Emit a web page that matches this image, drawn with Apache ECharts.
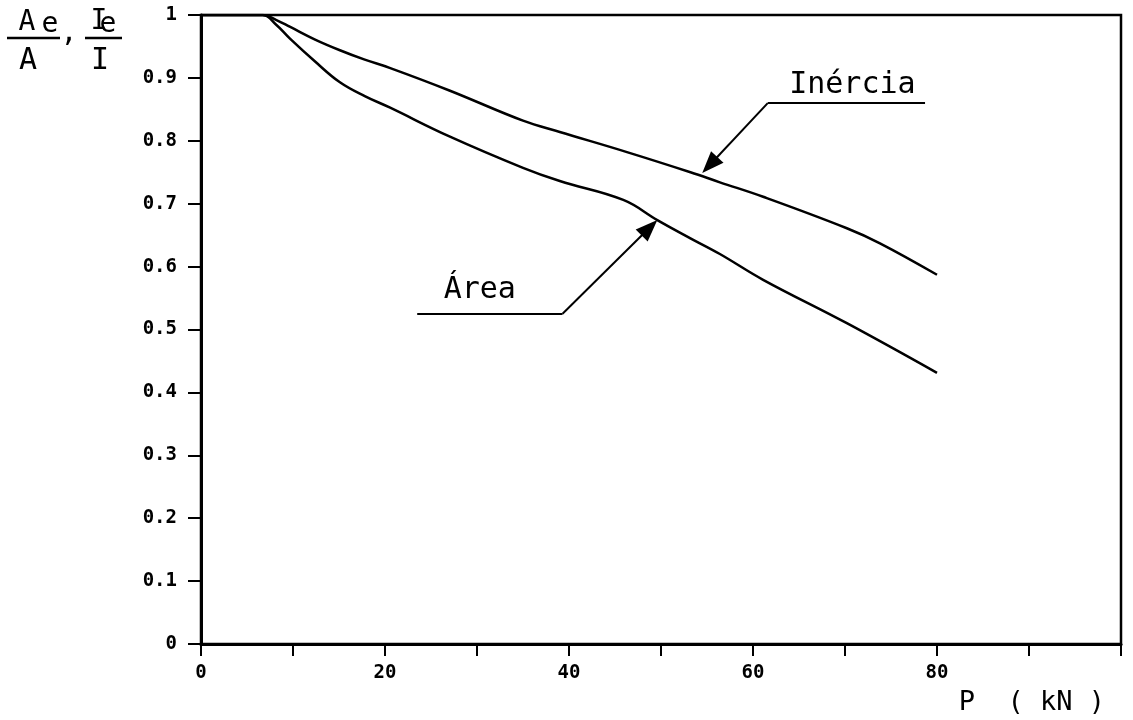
<!DOCTYPE html>
<html>
<head>
<meta charset="utf-8">
<script src="https://cdn.jsdelivr.net/npm/echarts@6/dist/echarts.min.js"></script>
<style>
html,body{margin:0;padding:0;background:#fff;}
#chart{width:1133px;height:720px;}
</style>
</head>
<body>
<div id="chart"></div>
<script>
// ---- data ----
const inerciaX = [0, 6.7, 8.2, 9.7, 12.4, 15.1, 17.8, 20.5, 27, 35, 39, 46.3, 53.2, 56.4, 61.1, 70.2, 73.8, 80];
const inerciaY = [1, 1, 0.992, 0.981, 0.961, 0.944, 0.929, 0.916, 0.880, 0.832, 0.814, 0.782, 0.750, 0.734, 0.711, 0.661, 0.637, 0.587];
const areaX = [0, 6.7, 8.2, 9.7, 12.4, 15.1, 17.8, 20.5, 27, 35, 39, 45.9, 49.6, 53.2, 56.4, 61.1, 70.2, 80];
const areaY = [1, 1, 0.984, 0.962, 0.926, 0.893, 0.871, 0.853, 0.807, 0.757, 0.736, 0.706, 0.674, 0.645, 0.620, 0.579, 0.510, 0.431];
const xLabels = [0, 20, 40, 60, 80];
const seriesNames = ['Inércia', 'Área'];
// annotation anchors (data coordinates); "head" is the centre of the arrow head
const inerciaNote = { text: [70.8, 0.889], lineStart: [78.7, 0.860], lineEnd: [61.6, 0.860], head: [55.3, 0.7615] };
const areaNote = { text: [30.3, 0.563], lineStart: [23.5, 0.525], lineEnd: [39.3, 0.525], head: [48.75, 0.6617] };

const pairs = (xs, ys) => xs.map((x, i) => [x, ys[i]]);
const MONO = 'DejaVu Sans Mono';

function annotation(note, name) {
  return {
    markLine: {
      silent: true,
      animation: false,
      label: { show: false },
      lineStyle: { color: '#000', type: 'solid', width: 2 },
      emphasis: { disabled: true },
      data: [
        [{ coord: note.lineStart, symbol: 'none' }, { coord: note.lineEnd, symbol: 'none' }],
        [{ coord: note.lineEnd, symbol: 'none' }, { coord: note.head, symbol: 'triangle', symbolSize: [17, 22] }]
      ]
    },
    markPoint: {
      silent: true,
      animation: false,
      data: [{
        coord: note.text, symbol: 'circle', symbolSize: 0,
        itemStyle: { color: 'rgba(0,0,0,0)' },
        label: { show: true, position: 'inside', formatter: name, color: '#000', fontFamily: MONO, fontSize: 30 }
      }]
    }
  };
}

function txt(x, y, s, size) {
  return { type: 'text', style: { x: x, y: y, text: s, fontSize: size, fontFamily: MONO, fill: '#000', align: 'center', verticalAlign: 'middle', textAlign: 'center', textVerticalAlign: 'middle' } };
}

const chart = echarts.init(document.getElementById('chart'), null, { renderer: 'canvas' });
chart.setOption({
  animation: false,
  backgroundColor: '#fff',
  grid: { left: 201, right: 12, top: 15, bottom: 76, show: true, borderColor: '#000', borderWidth: 2.5, backgroundColor: 'transparent' },
  xAxis: {
    type: 'value', min: 0, max: 100, interval: 10,
    axisLine: { show: true, onZero: false, lineStyle: { color: '#000', width: 3 } },
    axisTick: { show: true, inside: false, length: 12, lineStyle: { color: '#000', width: 2 } },
    splitLine: { show: false },
    axisLabel: {
      margin: 20, color: '#000', fontFamily: MONO, fontWeight: 'bold', fontSize: 19,
      formatter: v => (xLabels.indexOf(v) >= 0 ? String(v) : '')
    },
    name: 'P  ( kN )', nameLocation: 'end', nameGap: 0,
    nameTextStyle: { color: '#000', fontFamily: MONO, fontSize: 27, align: 'right', verticalAlign: 'top', padding: [45, 16, 0, 0] }
  },
  yAxis: {
    type: 'value', min: 0, max: 1, interval: 0.1,
    axisLine: { show: true, onZero: false, lineStyle: { color: '#000', width: 3 } },
    axisTick: { show: true, inside: false, length: 13, lineStyle: { color: '#000', width: 2 } },
    splitLine: { show: false },
    axisLabel: {
      margin: 24, color: '#000', fontFamily: MONO, fontWeight: 'bold', fontSize: 19,
      formatter: v => String(Math.round(v * 10) / 10)
    }
  },
  graphic: [
    txt(27, 23, 'A', 28),
    txt(50, 25, 'e', 28),
    { type: 'line', shape: { x1: 7, y1: 38, x2: 60, y2: 38 }, style: { stroke: '#000', lineWidth: 2.5 } },
    txt(28, 61, 'A', 30),
    txt(69, 34, ',', 28),
    txt(99, 22, 'I', 28),
    txt(108, 25, 'e', 28),
    { type: 'line', shape: { x1: 85, y1: 38, x2: 122, y2: 38 }, style: { stroke: '#000', lineWidth: 2.5 } },
    txt(100, 61, 'I', 30)
  ],
  series: [
    Object.assign({
      name: seriesNames[0], type: 'line', data: pairs(inerciaX, inerciaY),
      showSymbol: false, smooth: 0.4, lineStyle: { color: '#000', width: 2.5 }, silent: true
    }, annotation(inerciaNote, seriesNames[0])),
    Object.assign({
      name: seriesNames[1], type: 'line', data: pairs(areaX, areaY),
      showSymbol: false, smooth: 0.4, lineStyle: { color: '#000', width: 2.5 }, silent: true
    }, annotation(areaNote, seriesNames[1]))
  ]
});
</script>
</body>
</html>
